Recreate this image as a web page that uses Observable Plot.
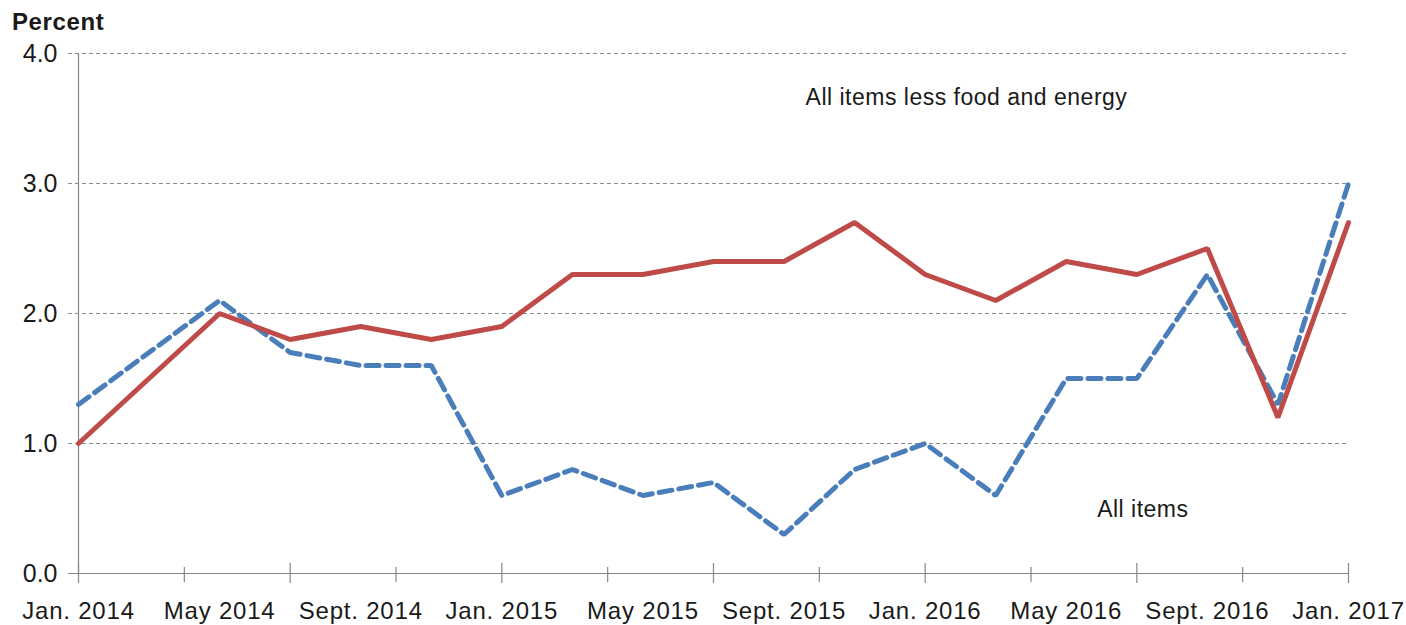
<!DOCTYPE html>
<html>
<head>
<meta charset="utf-8">
<script src="https://cdn.jsdelivr.net/npm/d3@7"></script>
<script src="https://cdn.jsdelivr.net/npm/@observablehq/plot@0.6"></script>
<style>
  html, body { margin: 0; padding: 0; background: #fff; }
  #wrap { width: 1406px; height: 625px; position: relative; overflow: hidden; font-family: "Liberation Sans", Arial, sans-serif; }
  #ylabel { height: 40px; box-sizing: border-box; padding-top: 10px; padding-left: 12px; line-height: 24px; font-size: 24px; font-weight: bold; color: #1a1a1a; letter-spacing: 0.6px; }
  svg { display: block; }
  svg g[aria-label="x-axis tick label"] text { letter-spacing: 0.8px; }
  svg g[aria-label="text"] text { letter-spacing: 0.5px; }
</style>
</head>
<body>
<div id="wrap">
  <div id="ylabel">Percent</div>
  <div id="chart"></div>
</div>
<script>
// ---- data ----
const months = ["2014-01","2014-05","2014-07","2014-09","2014-11","2015-01","2015-03","2015-05","2015-07","2015-09","2015-11","2016-01","2016-03","2016-05","2016-07","2016-09","2016-11","2017-01"];
const coreValues = [1.0, 2.0, 1.8, 1.9, 1.8, 1.9, 2.3, 2.3, 2.4, 2.4, 2.7, 2.3, 2.1, 2.4, 2.3, 2.5, 1.2, 2.7];
const allItemsValues = [1.3, 2.1, 1.7, 1.6, 1.6, 0.6, 0.8, 0.6, 0.7, 0.3, 0.8, 1.0, 0.6, 1.5, 1.5, 2.3, 1.3, 3.0];
const tickLabels = ["Jan. 2014","May 2014","Sept. 2014","Jan. 2015","May 2015","Sept. 2015","Jan. 2016","May 2016","Sept. 2016","Jan. 2017"];
const labelMonths = ["2014-01","2014-05","2014-09","2015-01","2015-05","2015-09","2016-01","2016-05","2016-09","2017-01"];
const majorTickMonths = ["2014-01","2014-07","2015-01","2015-07","2016-01","2016-07","2017-01"];
const minorTickMonths = ["2014-04","2014-10","2015-04","2015-10","2016-04","2016-10"];
const yTicks = [0, 1, 2, 3, 4];
const annotations = [
  {text: "All items less food and energy", month: "2016-02", value: 3.66},
  {text: "All items", month: "2016-07", value: 0.49}
];

// month index from Jan. 2014
const idx = s => { const [y, m] = s.split("-").map(Number); return (y - 2014) * 12 + (m - 1); };

const core = months.map((m, i) => ({x: idx(m), y: coreValues[i]}));
const all = months.map((m, i) => ({x: idx(m), y: allItemsValues[i]}));
const labelIdx = labelMonths.map(idx);

const W = 1406, H = 585;
const mt = 13, mb = 52, ml = 78, mr = 58;
const plotH = H - mt - mb;
const axisColor = "#868686";
const textColor = "#1a1a1a";

const chart = Plot.plot({
  width: W,
  height: H,
  marginTop: mt,
  marginBottom: mb,
  marginLeft: ml,
  marginRight: mr,
  style: {fontFamily: '"Liberation Sans", Arial, sans-serif', color: textColor, background: "#fff", overflow: "visible"},
  x: {type: "linear", domain: [0, 36]},
  y: {domain: [0, 4]},
  marks: [
    Plot.ruleY(yTicks.filter(d => d > 0), {stroke: "#8a8a8a", strokeDasharray: "4,3", strokeWidth: 1, insetLeft: -10}),
    Plot.ruleY([0], {stroke: axisColor, strokeWidth: 1.2, insetLeft: -10}),
    Plot.ruleX([0], {stroke: axisColor, strokeWidth: 1.2}),
    Plot.tickX(majorTickMonths.map(idx), {x: d => d, stroke: axisColor, strokeWidth: 1.2, insetTop: plotH - 10, insetBottom: -10}),
    Plot.tickX(minorTickMonths.map(idx), {x: d => d, stroke: axisColor, strokeWidth: 1.2, insetTop: plotH - 6, insetBottom: -9}),
    Plot.axisY({ticks: yTicks, tickFormat: d => d.toFixed(1), tickSize: 0, tickPadding: 21, fontSize: 25, label: null, fill: textColor}),
    Plot.axisX({ticks: labelIdx, tickFormat: d => tickLabels[labelIdx.indexOf(d)], tickSize: 0, tickPadding: 28, fontSize: 24, label: null, fill: textColor}),
    Plot.line(all, {x: "x", y: "y", stroke: "#4A7EBB", strokeWidth: 5, strokeDasharray: "13,7", strokeLinejoin: "miter"}),
    Plot.line(core, {x: "x", y: "y", stroke: "#BE4B48", strokeWidth: 5, strokeLinejoin: "miter"}),
    Plot.text(annotations, {x: d => idx(d.month), y: "value", text: "text", fontSize: 23, fill: textColor, textAnchor: "middle", lineAnchor: "middle", dx: 6})
  ]
});
document.getElementById("chart").appendChild(chart);
</script>
</body>
</html>
